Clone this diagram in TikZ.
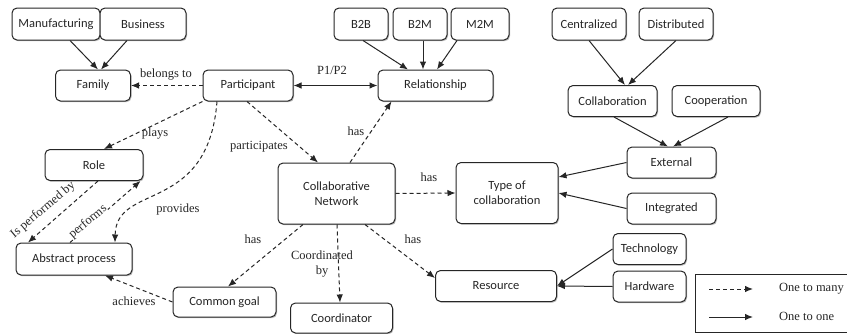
\documentclass[tikz,border=0pt]{standalone}
\usepackage{fontspec}
\newfontfamily\boxfont{Carlito}
\newfontfamily\relfont{Liberation Serif}
\usetikzlibrary{arrows.meta,calc,shadows}

\tikzset{
  entity/.style={draw=black!85, fill=white, line width=1pt, rounded corners=5pt, inner sep=0pt,
    align=center, text=black!85, font=\boxfont\fontsize{12.5}{14.5}\selectfont,
    drop shadow={shadow xshift=1pt, shadow yshift=-1.2pt, fill=black!45, opacity=0.6}},
  rel/.style={inner sep=1pt, text=black!85, font=\relfont\fontsize{12.5}{15}\selectfont},
  many/.style={draw=black!85, line width=1pt, dash pattern=on 4pt off 3pt,
    -{Latex[length=8pt,width=6.5pt]}},
  one/.style={draw=black!85, line width=1pt, -{Latex[length=8pt,width=6.5pt]}},
  both/.style={draw=black!85, line width=1pt, {Latex[length=8pt,width=6.5pt]}-{Latex[length=8pt,width=6.5pt]}},
}

\begin{document}
\begin{tikzpicture}[x=1pt,y=-1pt]
\path[use as bounding box, clip] (0,0) rectangle (847,333);

% participants and their families
\node[entity, minimum width=88pt, minimum height=32pt] (manu) at (56,24) {Manufacturing};
\node[entity, minimum width=86pt, minimum height=32pt] (bus) at (143,24) {Business};
\node[entity, minimum width=75pt, minimum height=31pt] (family) at (93,85.5) {Family};
\node[entity, minimum width=90pt, minimum height=31pt] (part) at (248,85.5) {Participant};

% relationship kinds
\node[entity, minimum width=54pt, minimum height=32pt] (b2b) at (361,24) {B2B};
\node[entity, minimum width=54pt, minimum height=32pt] (b2m) at (420,24) {B2M};
\node[entity, minimum width=58pt, minimum height=32pt] (m2m) at (480,24) {M2M};
\node[entity, minimum width=115pt, minimum height=31pt] (relship) at (435.5,85.5) {Relationship};

% collaboration types
\node[entity, minimum width=74pt, minimum height=32pt] (cent) at (589,24) {Centralized};
\node[entity, minimum width=74pt, minimum height=32pt] (dist) at (676,24) {Distributed};
\node[entity, minimum width=89pt, minimum height=31pt] (collab) at (612.5,101) {Collaboration};
\node[entity, minimum width=88pt, minimum height=31pt] (coop) at (716,101) {Cooperation};
\node[entity, minimum width=89pt, minimum height=31pt] (ext) at (671.5,162.5) {External};
\node[entity, minimum width=89pt, minimum height=31pt] (integ) at (671.5,208.5) {Integrated};
\node[entity, minimum width=102pt, minimum height=61pt] (type) at (507,193) {Type of\\collaboration};

% network core
\node[entity, minimum width=117pt, minimum height=61pt] (cn) at (336.5,193.5) {Collaborative\\Network};
\node[entity, minimum width=98pt, minimum height=31pt] (role) at (94,165) {Role};
\node[entity, minimum width=116pt, minimum height=32pt] (abs) at (74,259) {Abstract process};
\node[entity, minimum width=103pt, minimum height=30pt] (goal) at (224.5,302) {Common goal};
\node[entity, minimum width=102pt, minimum height=30pt] (coord) at (341.5,318) {Coordinator};
\node[entity, minimum width=121pt, minimum height=31pt] (res) at (496,286) {Resource};
\node[entity, minimum width=73pt, minimum height=31pt] (tech) at (649.5,249) {Technology};
\node[entity, minimum width=73pt, minimum height=31pt] (hard) at (649.5,286.5) {Hardware};

% one-to-one links
\draw[one] ([xshift=14pt]manu.south) -- ([xshift=5pt]family.north);
\draw[one] ([xshift=-16pt]bus.south) -- ([xshift=8pt]family.north);
\draw[one] ([xshift=2pt]b2b.south) -- ([xshift=-27.5pt]relship.north);
\draw[one] ([xshift=3pt]b2m.south) -- ([xshift=-12.5pt]relship.north);
\draw[one] ([xshift=-23pt]m2m.south) -- ([xshift=1.5pt]relship.north);
\draw[one] (cent.south) -- ([xshift=12.5pt]collab.north);
\draw[one] (dist.south) -- ([xshift=15.5pt]collab.north);
\draw[one] ([xshift=1.5pt]collab.south) -- ([xshift=-3.5pt]ext.north);
\draw[one] ([xshift=12pt]coop.south) -- ([xshift=1.5pt]ext.north);
\draw[one] (ext.west) -- ([yshift=16pt]type.east);
\draw[one] (integ.west) -- (type.east);
\draw[one] (tech.west) -- (res.east);
\draw[one] (hard.west) -- (res.east);
\draw[both] (part.east) -- (relship.west);

% one-to-many links
\draw[many] (part.west) -- (family.east);
\draw[many] ([xshift=-1pt]part.south) -- ([xshift=-18.5pt]cn.north);
\draw[many] (part.south west) -- ([xshift=10pt]role.north);
\draw[many] ([xshift=-31pt]part.south) .. controls (208,215) and (116,182) .. ([xshift=41pt]abs.north);
\draw[many] ([xshift=13.5pt]cn.north) -- ([xshift=14pt]relship.south west);
\draw[many] (cn.east) -- (type.west);
\draw[many] ([xshift=-33.5pt]cn.south) -- ([xshift=3.5pt]goal.north);
\draw[many] ([xshift=0.5pt]cn.south) -- ([xshift=-1.5pt]coord.north);
\draw[many] ([xshift=28.5pt]cn.south) -- ([yshift=8pt]res.west);
\draw[many] ([xshift=4pt]role.south) -- ([xshift=-46pt]abs.north);
\draw[many] ([xshift=-4pt]abs.north) -- ([xshift=-3pt]role.south east);
\draw[many] (goal.west) -- ([xshift=31pt]abs.south);

% link labels
\node[rel] (lbelongs) at (166,75) {belongs to};
\node[rel] (lp) at (332,70) {P1/P2};
\node[rel] (lhasrel) at (356,131) {has};
\node[rel] (lpart) at (259,147) {participates};
\node[rel] (lplays) at (155,134) {plays};
\node[rel] (lprov) at (178,209) {provides};
\node[rel] (lhasgoal) at (253,239) {has};
\node[rel] (lach) at (134,301) {achieves};
\node[rel, align=center] (lcoord) at (322,264) {Coordinated\\by};
\node[rel] (lhastype) at (429,177) {has};
\node[rel] (lhasres) at (413,239) {has};
\node[rel, rotate=40] (lisperf) at (43,210) {Is performed by};
\node[rel, rotate=40, fill=white, inner sep=0.5pt] (lperf) at (88,222) {performs};

% legend
\node[draw=black!85, line width=0.8pt, minimum width=180pt, minimum height=58pt, inner sep=0pt, anchor=north west] (legend) at (695,274) {};
\coordinate (la) at (709,289);
\coordinate (lb) at (753,289);
\coordinate (lc) at (709,317);
\coordinate (ld) at (753,317);
\draw[many] (la) -- (lb);
\draw[one] (lc) -- (ld);
\node[rel, anchor=west] (lmany) at (778,289) {One to many};
\node[rel, anchor=west] (lone) at (778,316) {One to one};
\end{tikzpicture}
\end{document}
